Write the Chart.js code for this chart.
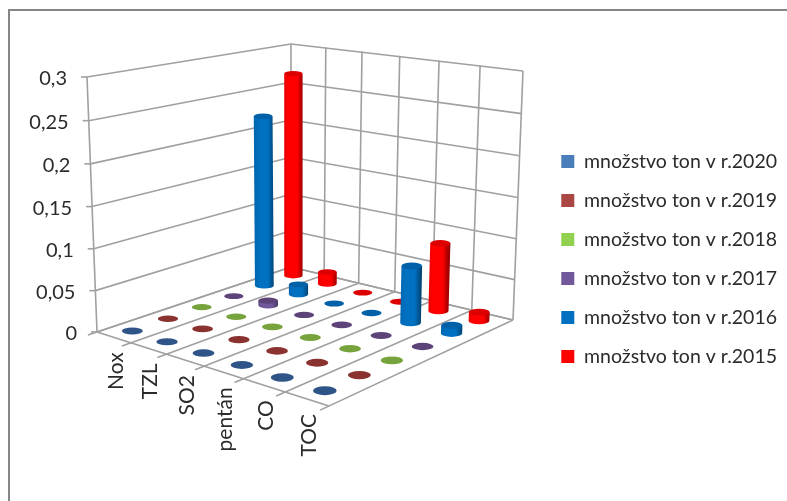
<!DOCTYPE html>
<html>
<head>
<meta charset="utf-8">
<style>
  html, body { margin: 0; padding: 0; background: #fff; }
  canvas { display: block; }
</style>
<script src="https://cdn.jsdelivr.net/npm/chart.js@4/dist/chart.umd.min.js"></script>
</head>
<body>
<canvas id="grafico" width="787" height="501"></canvas>
<script>
const kategorie = ["Nox", "TZL", "SO2", "pentán", "CO", "TOC"];
const rady = ["množstvo ton v r.2020", "množstvo ton v r.2019", "množstvo ton v r.2018",
              "množstvo ton v r.2017", "množstvo ton v r.2016", "množstvo ton v r.2015"];

const r2020 = [0, 0, 0, 0, 0, 0];
const r2019 = [0, 0, 0, 0, 0, 0];
const r2018 = [0, 0, 0, 0, 0, 0];
const r2017 = [0, 0.006, 0, 0, 0, 0];
const r2016 = [0.22, 0.013, 0, 0, 0.07, 0.01];
const r2015 = [0.267, 0.016, 0, 0, 0.085, 0.011];
const hodnoty = [r2020, r2019, r2018, r2017, r2016, r2015];

const barvyLegenda = ["#4A7EBB", "#AA4644", "#92D050", "#71589A", "#0070C0", "#FF0000"];
const barvyVrch = ["#2F5588", "#8A3230", "#76A33C", "#5C4478", "#0060A8", "#DD0000"];

// rohy podlahy a svislice v rozích: 3D pohled z Excelu
const A = [97, 332], B = [329, 406], C = [513, 320], D = [291, 267];
const upA = [-10, -255], upB = [2, -281], upC = [10, -249], upD = [0, -223];
const POLOMER = 0.21;
const PERSPEKTIVA = 0.968; // horní dílky osy jsou o trochu kratší
const MRIZKA = "#A0A0A0";
const TEXT = "#2B2B2B";

// homografie jednotkového čtverce na podlahu
function homografie(p0, p1, p2, p3) {
  const dx1 = p1[0] - p2[0], dx2 = p3[0] - p2[0], sx = p0[0] - p1[0] + p2[0] - p3[0];
  const dy1 = p1[1] - p2[1], dy2 = p3[1] - p2[1], sy = p0[1] - p1[1] + p2[1] - p3[1];
  const det = dx1 * dy2 - dx2 * dy1;
  const g = (sx * dy2 - dx2 * sy) / det;
  const h = (dx1 * sy - sx * dy1) / det;
  return (u, v) => {
    const w = g * u + h * v + 1;
    return [
      ((p1[0] - p0[0] + g * p1[0]) * u + (p3[0] - p0[0] + h * p3[0]) * v + p0[0]) / w,
      ((p1[1] - p0[1] + g * p1[1]) * u + (p3[1] - p0[1] + h * p3[1]) * v + p0[1]) / w,
    ];
  };
}
const podlaha = homografie(A, B, C, D);

function bod(u, v, w) {
  const p = podlaha(u, v);
  const lerp = i => (1 - u) * (1 - v) * upA[i] + u * (1 - v) * upB[i] + u * v * upC[i] + (1 - u) * v * upD[i];
  const h = w * PERSPEKTIVA / (1 - (1 - PERSPEKTIVA) * w);
  return [p[0] + h * lerp(0), p[1] + h * lerp(1)];
}

function linka(ctx, p, q) {
  ctx.beginPath();
  ctx.moveTo(p[0], p[1]);
  ctx.lineTo(q[0], q[1]);
  ctx.stroke();
}

function ztmav(hex, k) {
  const n = parseInt(hex.slice(1), 16);
  const c = [n >> 16, (n >> 8) & 255, n & 255].map(x => Math.round(x * k));
  return `rgb(${c.join(",")})`;
}

// zlomek škály: 0 = začátek osy, 1 = konec
function podilX(scale, i) {
  return scale.getDecimalForPixel(scale.getPixelForValue(i));
}
function podilY(scale, val) {
  return (scale.bottom - scale.getPixelForValue(val)) / scale.height;
}

class Valec extends Chart.BarController {
  draw() {
    const ctx = this.chart.ctx;
    const { x, y, z } = this.chart.scales;
    const v = podilX(z, this.index);
    const data = this.getDataset().data;
    const barva = this.getDataset().backgroundColor;
    const vrch = this.getDataset().barvaVrchu;

    data.forEach((val, i) => {
      const u = podilX(x, i);
      const dole = bod(u, v, 0);
      const hore = bod(u, v, podilY(y, val));
      const pu = bod(u + 0.01, v, 0), pv = bod(u, v + 0.01, 0);
      const rx = Math.hypot(pu[0] - dole[0], pv[0] - dole[0]) * POLOMER * 100 / 6;
      const ry = Math.hypot(pu[1] - dole[1], pv[1] - dole[1]) * POLOMER * 100 / 6;

      if (val > 0) {
        const g = ctx.createLinearGradient(dole[0] - rx, 0, dole[0] + rx, 0);
        g.addColorStop(0, ztmav(barva, 0.92));
        g.addColorStop(0.25, barva);
        g.addColorStop(0.7, barva);
        g.addColorStop(1, ztmav(barva, 0.62));
        ctx.fillStyle = g;
        ctx.beginPath();
        ctx.ellipse(dole[0], dole[1], rx, ry, 0, 0, Math.PI);
        ctx.lineTo(hore[0] - rx, hore[1]);
        ctx.lineTo(hore[0] + rx, hore[1]);
        ctx.closePath();
        ctx.fill();
      }
      ctx.fillStyle = vrch;
      ctx.beginPath();
      ctx.ellipse(hore[0], hore[1], rx, ry, 0, 0, Math.PI * 2);
      ctx.fill();
    });
  }
}
Valec.id = "valec";
Valec.defaults = Chart.BarController.defaults;
Valec.overrides = Chart.BarController.overrides;
Chart.register(Valec);

const mrizka = {
  id: "mrizka",
  beforeDatasetsDraw(chart) {
    const ctx = chart.ctx;
    const { y } = chart.scales;
    ctx.save();

    // rámeček grafu, vpravo a dole ho ořezává snímek
    ctx.strokeStyle = "#868686";
    ctx.lineWidth = 2;
    ctx.beginPath();
    ctx.moveTo(9, 510);
    ctx.lineTo(9, 10);
    ctx.lineTo(800, 10);
    ctx.stroke();

    ctx.strokeStyle = MRIZKA;
    ctx.lineWidth = 1.6;

    // stěny: vodorovné čáry z ticků osy Y
    const krok = kategorie.length;
    ctx.font = "20px Lato";
    ctx.fillStyle = TEXT;
    ctx.textAlign = "right";
    ctx.textBaseline = "middle";
    y.ticks.forEach(t => {
      const w = podilY(y, t.value);
      const a = bod(0, 0, w), d = bod(0, 1, w), c = bod(1, 1, w);
      linka(ctx, a, d);
      linka(ctx, d, c);
      linka(ctx, [a[0] - 6, a[1]], a);
      // desetinná čárka, zaokrouhlení kvůli plovoucí čárce
      const popis = String(Number(t.value.toFixed(2))).replace(".", ",");
      ctx.fillText(popis, a[0] - 20, a[1] + 2);
    });
    linka(ctx, bod(0, 0, 0), bod(0, 0, 1));
    for (let i = 0; i <= krok; i++) {
      linka(ctx, bod(i / krok, 1, 0), bod(i / krok, 1, 1));
      linka(ctx, bod(i / krok, -0.04, 0), bod(i / krok, 1, 0));
    }
    linka(ctx, bod(0, 0, 0), bod(1, 0, 0));
    linka(ctx, bod(0, 1, 0), bod(1, 1, 0));

    // popisky kategorií, otočené o 90°
    ctx.font = "21px Lato";
    chart.scales.x.ticks.forEach((t, i) => {
      const p = bod(podilX(chart.scales.x, i), 0, 0);
      ctx.save();
      ctx.translate(p[0] + 2, p[1] + 15);
      ctx.rotate(-Math.PI / 2);
      ctx.fillText(kategorie[i], 0, 0);
      ctx.restore();
    });
    ctx.restore();
  },
};

new Chart(document.getElementById("grafico"), {
  type: "valec",
  data: {
    labels: kategorie,
    datasets: rady.map((nazev, i) => ({
      label: nazev,
      data: hodnoty[i],
      backgroundColor: barvyLegenda[i],
      barvaVrchu: barvyVrch[i],
      borderWidth: 0,
      clip: false,
    })),
  },
  options: {
    responsive: false,
    animation: false,
    layout: { padding: { top: 20, left: 80, bottom: 3, right: 0 } },
    scales: {
      x: { type: "category", labels: kategorie, offset: true, display: false },
      z: { type: "category", axis: "x", labels: rady, offset: true, display: false },
      y: { type: "linear", min: 0, max: 0.3, ticks: { stepSize: 0.05 }, display: false },
    },
    plugins: {
      tooltip: { enabled: false },
      legend: {
        position: "right",
        labels: {
          boxWidth: 13,
          boxHeight: 13,
          padding: 19.5,
          color: TEXT,
          font: { family: "Lato", size: 19.5 },
        },
      },
    },
  },
  plugins: [mrizka],
});
</script>
</body>
</html>
